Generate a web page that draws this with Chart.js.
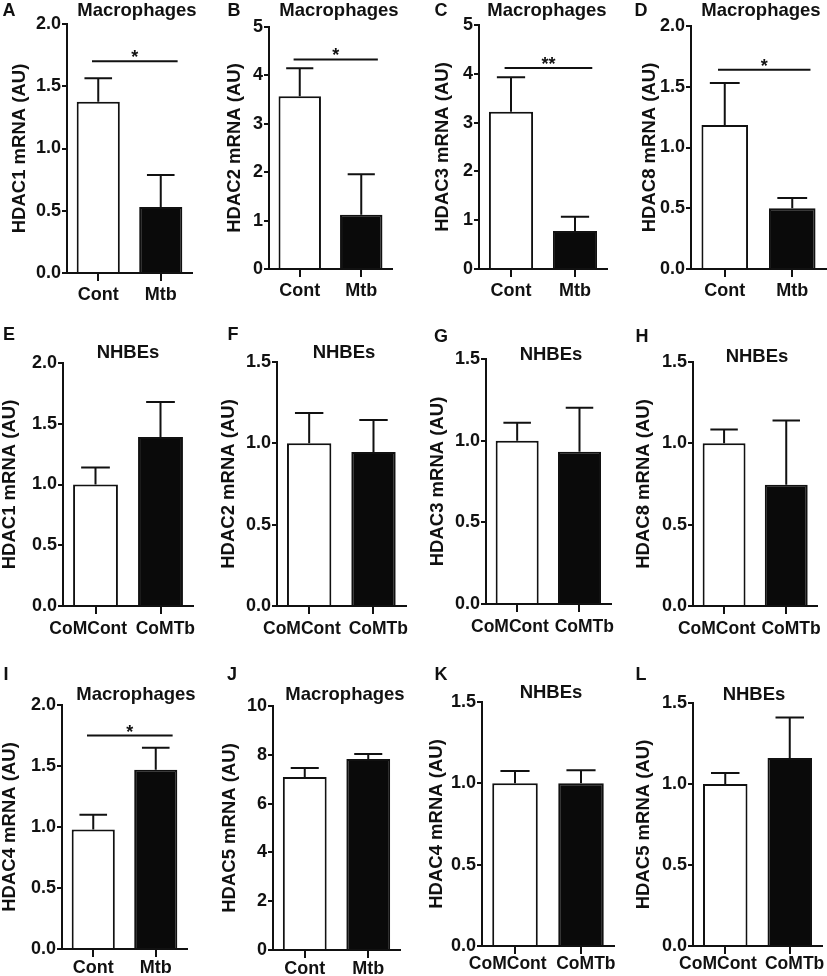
<!DOCTYPE html>
<html>
<head>
<meta charset="utf-8">
<script src="https://cdn.jsdelivr.net/npm/chart.js@4.4.0/dist/chart.umd.min.js"></script>
<style>
  body { margin: 0; background: #fff; }
  #fig { position: relative; width: 827px; height: 976px; overflow: hidden; }
  #fig canvas { position: absolute; }
</style>
</head>
<body>
<div id="fig"></div>
<script>
// ---- data ----
const panelLetters = ["A", "B", "C", "D", "E", "F", "G", "H", "I", "J", "K", "L"];
const cellTypes = ["Macrophages", "Macrophages", "Macrophages", "Macrophages",
  "NHBEs", "NHBEs", "NHBEs", "NHBEs",
  "Macrophages", "Macrophages", "NHBEs", "NHBEs"];
const genes = ["HDAC1", "HDAC2", "HDAC3", "HDAC8",
  "HDAC1", "HDAC2", "HDAC3", "HDAC8",
  "HDAC4", "HDAC5", "HDAC4", "HDAC5"];
const macGroups = ["Cont", "Mtb"];
const nhbeGroups = ["CoMCont", "CoMTb"];

const means = [
  [1.375, 0.53], [3.57, 1.12], [3.22, 0.78], [1.185, 0.50],
  [1.0, 1.39], [1.0, 0.947], [1.0, 0.932], [1.0, 0.745],
  [0.98, 1.47], [7.09, 7.83], [1.0, 1.0], [1.0, 1.16]
];
const sems = [
  [0.19, 0.257], [0.58, 0.84], [0.71, 0.29], [0.345, 0.085],
  [0.14, 0.29], [0.187, 0.196], [0.11, 0.27], [0.085, 0.395],
  [0.12, 0.18], [0.37, 0.2], [0.076, 0.08], [0.068, 0.25]
];
const yMax = [2, 5, 5, 2, 2, 1.5, 1.5, 1.5, 2, 10, 1.5, 1.5];
const yStep = [0.5, 1, 1, 0.5, 0.5, 0.5, 0.5, 0.5, 0.5, 2, 0.5, 0.5];
const sigLevel = [1.70, 4.33, 4.12, 1.64, null, null, null, null, 1.75, null, null, null];
const sigMark = ["*", "*", "**", "*", null, null, null, null, "*", null, null, null];

// ---- layout ----
const colLeft = [0, 207, 414, 620];
const colWidth = [207, 207, 206, 207];
const rowTop = [0, 320, 650];
const rowHeight = [320, 330, 326];
// axis x, chart top, chart right, x-axis height, y-title pad, label pad, letter pos, title pos
const frames = [
  { ax: 67, top: 24, right: 192, xh: 47, tp: 11, lp: 3, letter: [9, 11], title: [137, 11] },
  { ax: 62, top: 27, right: 185, xh: 51, tp: 19, lp: 3, letter: [27, 11], title: [132, 11] },
  { ax: 65, top: 25, right: 193, xh: 51, tp: 20, lp: 3, letter: [27, 11], title: [133, 11] },
  { ax: 71, top: 26, right: 206, xh: 51, tp: 21, lp: 3, letter: [21, 11], title: [141, 11] },
  { ax: 63, top: 43, right: 193, xh: 44, tp: 1, lp: 5, letter: [9, 15], title: [128, 33] },
  { ax: 70, top: 42, right: 203, xh: 44, tp: 13, lp: 5, letter: [26, 15], title: [137, 33] },
  { ax: 72, top: 39, right: 202, xh: 46, tp: 15, lp: 5, letter: [27, 17], title: [137, 35] },
  { ax: 73, top: 42, right: 202, xh: 44, tp: 15, lp: 5, letter: [22, 17], title: [137, 37] },
  { ax: 62, top: 55, right: 187, xh: 27, tp: 1, lp: 0, letter: [6, 25], title: [136, 45] },
  { ax: 66, top: 56, right: 193, xh: 26, tp: 14, lp: 0, letter: [25, 25], title: [138, 45] },
  { ax: 68, top: 52, right: 200, xh: 30, tp: 14, lp: 0, letter: [27, 25], title: [137, 43] },
  { ax: 73, top: 53, right: 202, xh: 30, tp: 15, lp: 0, letter: [21, 25], title: [134, 45] }
];

Chart.defaults.font.family = "'Liberation Sans', Arial, sans-serif";
Chart.defaults.font.weight = "bold";
Chart.defaults.color = "#111";

// error bars, significance bar, panel letter and title
const panelExtras = {
  id: "panelExtras",
  afterDatasetsDraw(chart) {
    const ctx = chart.ctx;
    const xs = chart.scales.x, ys = chart.scales.y;
    const ds = chart.data.datasets[0];
    const meta = chart.getDatasetMeta(0);
    ctx.save();
    ctx.strokeStyle = "#111";
    ctx.lineWidth = 2;
    meta.data.forEach((bar, i) => {
      const top = ys.getPixelForValue(ds.data[i] + ds.errors[i]);
      const half = bar.width * 0.32;
      ctx.beginPath();
      ctx.moveTo(bar.x, bar.y);
      ctx.lineTo(bar.x, top);
      ctx.moveTo(bar.x - half, top);
      ctx.lineTo(bar.x + half, top);
      ctx.stroke();
    });
    if (ds.sig != null) {
      const y = ys.getPixelForValue(ds.sig);
      const x1 = xs.getPixelForValue(-0.1), x2 = xs.getPixelForValue(1.27);
      ctx.beginPath();
      ctx.moveTo(x1, y);
      ctx.lineTo(x2, y);
      ctx.stroke();
      ctx.fillStyle = "#111";
      ctx.font = "bold 18px 'Liberation Sans', Arial, sans-serif";
      ctx.textAlign = "center";
      ctx.textBaseline = "alphabetic";
      ctx.fillText(ds.mark, (x1 + x2) / 2, y + 2);
    }
    ctx.restore();
  },
  afterDraw(chart) {
    const f = chart.config.options.frame;
    const ctx = chart.ctx;
    ctx.save();
    ctx.fillStyle = "#111";
    ctx.textAlign = "center";
    ctx.textBaseline = "middle";
    ctx.font = "bold 18px 'Liberation Sans', Arial, sans-serif";
    ctx.fillText(f.letterText, f.letter[0], f.letter[1]);
    ctx.font = "bold 18.5px 'Liberation Sans', Arial, sans-serif";
    ctx.fillText(f.titleText, f.title[0], f.title[1]);
    ctx.restore();
  }
};

const fig = document.getElementById("fig");

panelLetters.forEach((letter, i) => {
  const col = i % 4, row = Math.floor(i / 4);
  const w = colWidth[col], h = rowHeight[row];
  const f = frames[i];
  const canvas = document.createElement("canvas");
  canvas.width = w;
  canvas.height = h;
  canvas.style.left = colLeft[col] + "px";
  canvas.style.top = rowTop[row] + "px";
  fig.appendChild(canvas);

  const nhbe = cellTypes[i] === "NHBEs";
  const groups = nhbe ? nhbeGroups : macGroups;
  const decimals = yStep[i] < 1 ? 1 : 0;

  new Chart(canvas, {
    type: "bar",
    data: {
      labels: groups,
      datasets: [{
        data: means[i],
        errors: sems[i],
        sig: sigLevel[i],
        mark: sigMark[i],
        backgroundColor: ["#ffffff", "#0a0a0a"],
        borderColor: "#111",
        borderWidth: 2,
        barPercentage: 0.69,
        categoryPercentage: 1.0
      }]
    },
    options: {
      responsive: false,
      animation: false,
      devicePixelRatio: 1,
      frame: Object.assign({ letterText: letter, titleText: cellTypes[i] }, f),
      layout: { padding: { left: 0, top: f.top, right: w - f.right, bottom: 0 } },
      plugins: { legend: { display: false }, tooltip: { enabled: false } },
      scales: {
        x: {
          grid: { display: true, drawOnChartArea: false, offset: false, drawTicks: true,
            tickLength: 8, lineWidth: 2, color: "#111" },
          border: { display: true, width: 2, color: "#111" },
          ticks: {
            color: "#111", padding: f.lp, autoSkip: false, maxRotation: 0, minRotation: 0,
            font: { size: nhbe ? 17.5 : 18, weight: "bold" },
            // the long NHBE labels sit slightly apart from their ticks, as in the original
            callback: (v, k) => nhbe ? (k === 0 ? groups[k] + "   " : "  " + groups[k]) : groups[k]
          },
          afterFit: s => { s.height = f.xh; }
        },
        y: {
          min: 0,
          max: yMax[i],
          grid: { display: true, drawOnChartArea: false, drawTicks: true,
            tickLength: 5, lineWidth: 2, color: "#111" },
          border: { display: true, width: 2, color: "#111" },
          ticks: {
            stepSize: yStep[i],
            padding: 1,
            color: "#111",
            font: { size: 18, weight: "bold" },
            callback: v => Number(v).toFixed(decimals)
          },
          title: {
            display: true,
            text: genes[i] + " mRNA (AU)",
            color: "#111",
            font: { size: 18.5, weight: "bold", lineHeight: 1 },
            padding: { top: f.tp, bottom: 0 }
          },
          afterFit: s => { s.width = f.ax; }
        }
      }
    },
    plugins: [panelExtras]
  });
});
</script>
</body>
</html>
